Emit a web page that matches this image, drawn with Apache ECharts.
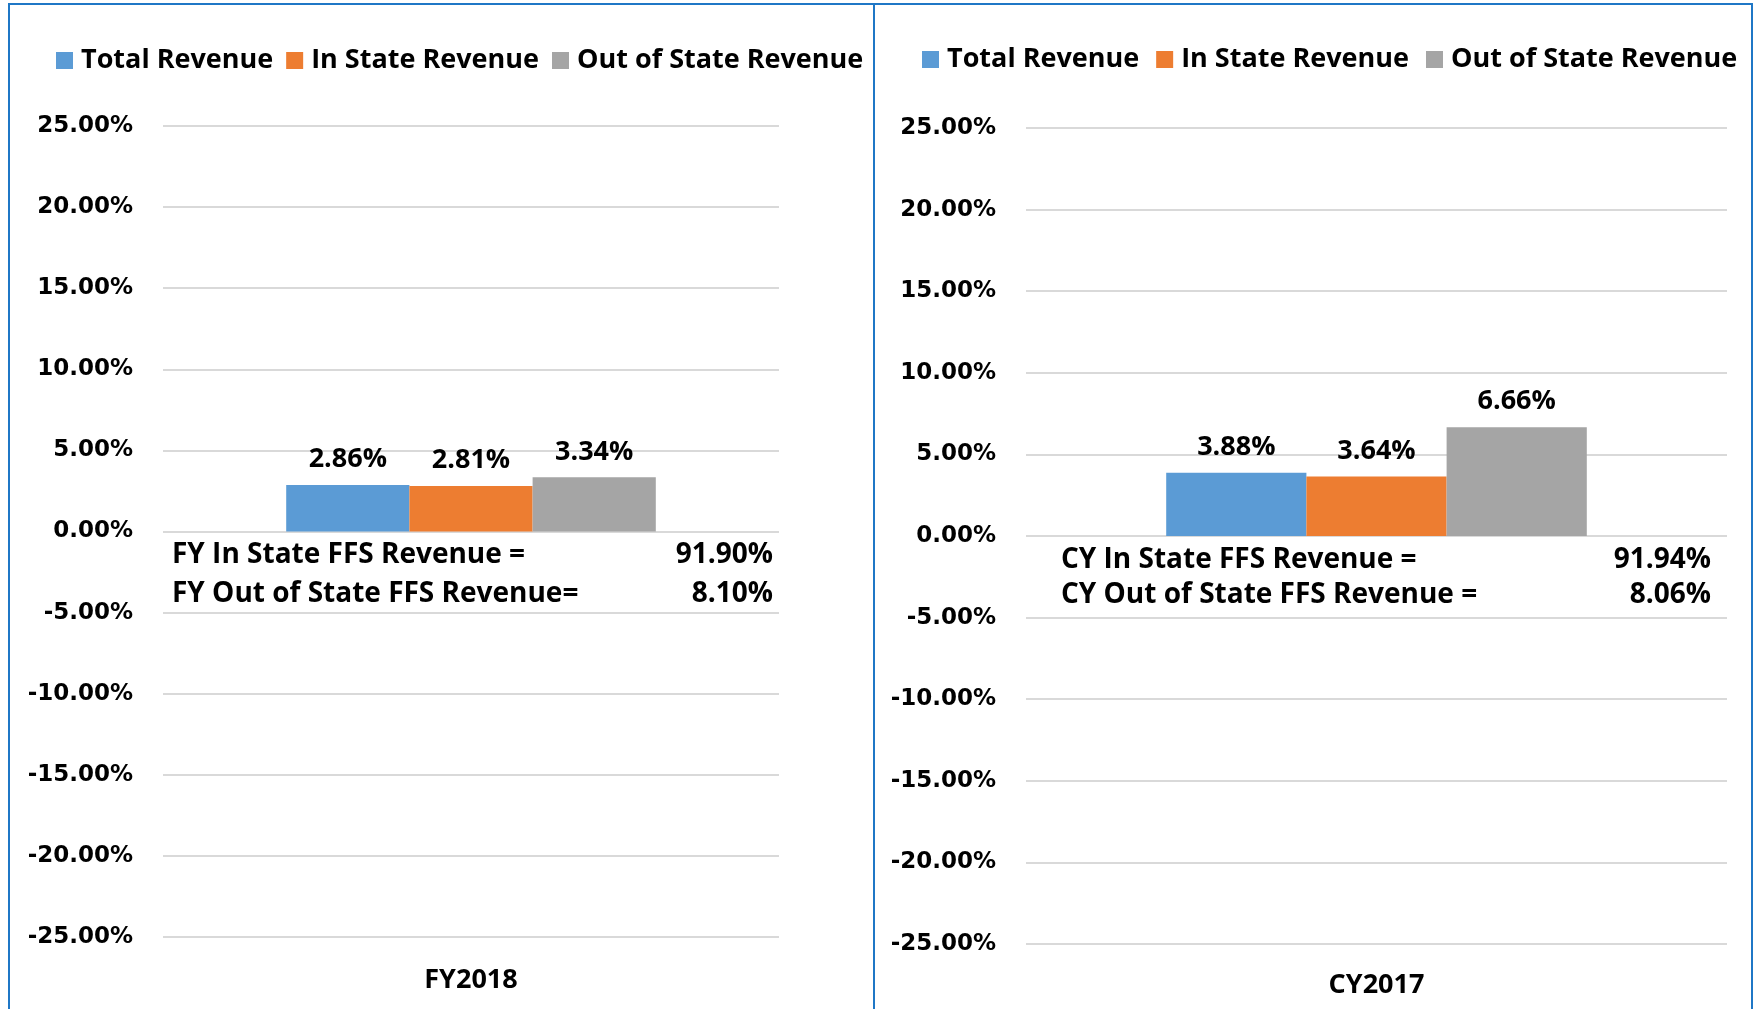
<!DOCTYPE html>
<html>
<head>
<meta charset="utf-8">
<script src="https://cdn.jsdelivr.net/npm/echarts@6/dist/echarts.min.js"></script>
<style>
    html, body { margin: 0; padding: 0; background: #fff; }
    #main { position: absolute; left: 0; top: 0; width: 1762px; height: 1009px; }
    .frame { position: absolute; border: 2px solid #1f77c6; border-bottom: none; }
</style>
</head>
<body>
<div class="frame" style="left:8px; top:3px; width:863px; height:1010px;"></div>
<div class="frame" style="left:871px; top:3px; width:880px; height:1010px; border-left:none;"></div>
<div id="main"></div>
<script>
// data
var seriesNames = ['Total Revenue', 'In State Revenue', 'Out of State Revenue'];
var colors = ['#5b9bd5', '#ed7d31', '#a5a5a5'];
var fyCategories = ['FY2018'];
var cyCategories = ['CY2017'];
var fyValues = [2.86, 2.81, 3.34];
var cyValues = [3.88, 3.64, 6.66];
var yMin = -25, yMax = 25, yStep = 5;
var fyNoteLabels = ['FY In State FFS Revenue =', 'FY Out of State FFS Revenue='];
var fyNoteValues = ['91.90%', '8.10%'];
var cyNoteLabels = ['CY In State FFS Revenue =', 'CY Out of State FFS Revenue ='];
var cyNoteValues = ['91.94%', '8.06%'];

var txtFont = 'Open Sans';

function yAxisOpt(gridIndex) {
    return {
        type: 'value',
        gridIndex: gridIndex,
        min: yMin,
        max: yMax,
        interval: yStep,
        axisLine: { show: false },
        axisTick: { show: false },
        splitLine: { lineStyle: { color: '#d9d9d9', width: 2 } },
        axisLabel: {
            margin: 30,
            fontFamily: 'DejaVu Sans',
            fontWeight: 'bold',
            fontSize: 23,
            color: '#000',
            formatter: function (v) { return v.toFixed(2) + '%'; }
        }
    };
}

function xAxisOpt(gridIndex, data, margin) {
    return {
        type: 'category',
        gridIndex: gridIndex,
        data: data,
        axisLine: { show: false, onZero: false },
        axisTick: { show: false },
        axisLabel: {
            margin: margin,
            fontFamily: txtFont,
            fontWeight: 'bold',
            fontSize: 27,
            color: '#000'
        }
    };
}

function barSeries(index, values) {
    var arr = [];
    for (var i = 0; i < seriesNames.length; i++) {
        arr.push({
            name: seriesNames[i],
            type: 'bar',
            xAxisIndex: index,
            yAxisIndex: index,
            barGap: 0,
            barCategoryGap: '40%',
            itemStyle: { color: colors[i] },
            label: {
                show: true,
                position: 'top',
                distance: 12,
                fontFamily: txtFont,
                fontWeight: 'bold',
                fontSize: 27,
                color: '#000',
                formatter: function (p) { return p.value.toFixed(2) + '%'; }
            },
            data: [values[i]]
        });
    }
    return arr;
}

function legendOpt(left, top, gap) {
    return {
        left: left,
        top: top,
        itemWidth: 17,
        itemHeight: 17,
        itemGap: gap,
        icon: 'rect',
        data: seriesNames,
        textStyle: {
            fontFamily: txtFont,
            fontWeight: 'bold',
            fontSize: 27,
            color: '#000',
            padding: [0, 0, 0, 3]
        }
    };
}

// side notes under the zero line
function notes(labels, values, x, xRight, ys) {
    var g = [];
    for (var i = 0; i < labels.length; i++) {
        g.push({
            type: 'text', left: x, top: ys[i] - 19,
            style: { text: labels[i], fontFamily: txtFont, fontWeight: 'bold', fontSize: 28, fill: '#000' }
        });
        g.push({
            type: 'text', right: 1762 - xRight, top: ys[i] - 19,
            style: { text: values[i], fontFamily: txtFont, fontWeight: 'bold', fontSize: 28, fill: '#000' }
        });
    }
    return g;
}

var chart = echarts.init(document.getElementById('main'));

chart.setOption({
    animation: false,
    color: colors,
    legend: [legendOpt(51, 42, 13), legendOpt(917, 41, 17)],
    grid: [
        { left: 163, right: 983, top: 126, bottom: 72 },
        { left: 1026, right: 35, top: 128, bottom: 65 }
    ],
    xAxis: [xAxisOpt(0, fyCategories, 30), xAxisOpt(1, cyCategories, 28)],
    yAxis: [yAxisOpt(0), yAxisOpt(1)],
    series: barSeries(0, fyValues).concat(barSeries(1, cyValues)),
    graphic: notes(fyNoteLabels, fyNoteValues, 172, 773, [560, 599])
        .concat(notes(cyNoteLabels, cyNoteValues, 1061, 1711, [565, 600]))
});
</script>
</body>
</html>
